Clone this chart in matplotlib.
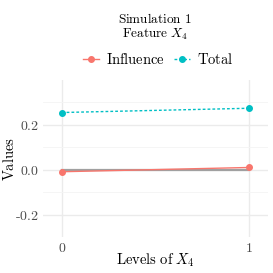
import matplotlib
matplotlib.use("Agg")
import matplotlib.pyplot as plt
from matplotlib.lines import Line2D

plt.rcParams["mathtext.fontset"] = "cm"
plt.rcParams["font.family"] = "serif"

levels = [0, 1]
influence = [-0.009, 0.010]
total = [0.255, 0.274]
baseline = [0.0, 0.0]
yticks = [-0.2, 0.0, 0.2]
ytick_labels = [r"$\text{-}0.2$", r"$0.0$", r"$0.2$"]

RED = "#F8766D"
CYAN = "#00BFC4"
GRID = "#EBEBEB"
TXT = "#4D4D4D"

fig = plt.figure(figsize=(2.73, 2.73), dpi=100)
ax = fig.add_axes([43 / 273, 1 - 237 / 273, 225 / 273, 157 / 273])

ax.plot(levels, baseline, color="#A0A0A0", lw=1.6, zorder=2)
ax.plot(levels, influence, color=RED, lw=1.0, marker="o", ms=4, zorder=3)
ax.plot(levels, total, color=CYAN, lw=1.0, ls=(0, (2, 1.5)), marker="o", ms=4, zorder=3)

ax.set_xlim(-0.1, 1.1)
ax.set_ylim(-0.3, 0.4)
ax.set_xticks(levels, [r"$0$", r"$1$"])
ax.set_yticks(yticks, ytick_labels)
ax.set_yticks([-0.3, -0.1, 0.1, 0.3], minor=True)
ax.grid(which="major", color=GRID, lw=1.0)
ax.grid(which="minor", axis="y", color="#F4F4F4", lw=0.6)
ax.set_axisbelow(True)
for s in ax.spines.values():
    s.set_visible(False)
ax.tick_params(which="both", length=0, labelsize=10, labelcolor=TXT, pad=3)
ax.set_xlabel(r"$\mathrm{Levels\ of}\ X_4$", fontsize=10.5)
ax.set_ylabel(r"$\mathrm{Values}$", fontsize=10.5)
ax.xaxis.set_label_coords(0.5, -0.095)
ax.yaxis.set_label_coords(-0.115, 0.5)

fig.text(0.568, 1 - 19 / 273, r"$\mathrm{Simulation\ 1}$", ha="center", va="center", fontsize=9.5)
fig.text(0.568, 1 - 34 / 273, r"$\mathrm{Feature}\ X_4$", ha="center", va="center", fontsize=9.5)

handles = [
    Line2D([], [], color=RED, lw=1.0, marker="o", ms=4),
    Line2D([], [], color=CYAN, lw=1.0, ls=(0, (2, 1.5)), marker="o", ms=4),
]
fig.legend(handles, [r"$\mathrm{Influence}$", r"$\mathrm{Total}$"], loc="center",
           bbox_to_anchor=(0.579, 1 - 60 / 273), ncol=2, frameon=False, fontsize=10.5,
           handlelength=1.1, handletextpad=0.5, columnspacing=0.6)

fig.savefig("out.png", dpi=100, facecolor="white")
